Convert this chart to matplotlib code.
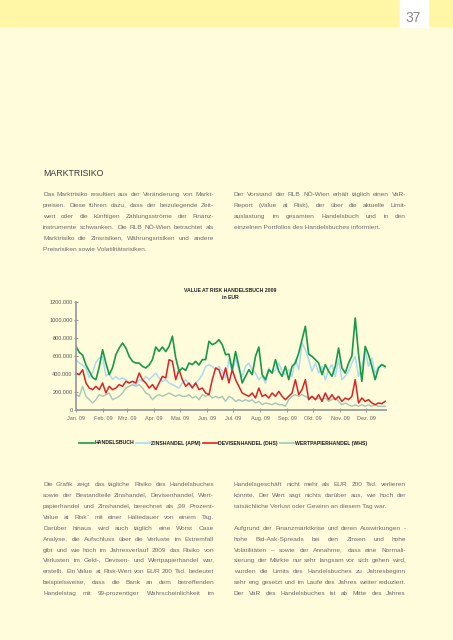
import pandas as pd
import matplotlib
matplotlib.use('Agg')
import matplotlib.pyplot as plt
from matplotlib.font_manager import FontProperties
from matplotlib.ticker import FuncFormatter

W, H = 453, 640
BG = '#fffcdc'
BAND = '#fff7a6'
TXT = '#6c6c6c'

# --- data (EUR thousands), roughly every 3-4 days over 2009 ---
dates = pd.date_range('2009-01-01', '2009-12-23', periods=94)

handelsbuch = [707, 640, 610, 500, 430, 360, 337, 480, 670, 520, 393, 470, 615, 689, 744, 689,
               596, 541, 522, 522, 485, 467, 500, 560, 700, 652, 700, 650, 707, 820, 580, 430,
               467, 440, 522, 504, 541, 500, 560, 560, 763, 726, 744, 781, 726, 615, 620, 448,
               650, 485, 300, 374, 448, 393, 596, 700, 393, 337, 448, 411, 560, 430, 374, 485,
               337, 485, 522, 633, 781, 930, 620, 596, 560, 522, 393, 504, 430, 374, 485, 689,
               467, 411, 522, 600, 1022, 620, 319, 707, 615, 485, 337, 467, 504, 485]
zinshandel = [560, 522, 500, 460, 360, 420, 530, 578, 590, 380, 400, 340, 370, 340, 356, 337,
              300, 319, 270, 337, 319, 374, 337, 374, 411, 356, 319, 337, 300, 282, 263, 244,
              300, 337, 282, 263, 300, 337, 393, 485, 504, 485, 448, 485, 430, 356, 560, 411,
              578, 448, 374, 485, 522, 448, 411, 337, 374, 300, 467, 411, 448, 522, 430, 393,
              448, 374, 560, 448, 744, 670, 560, 430, 522, 411, 485, 337, 448, 504, 374, 560,
              337, 374, 430, 522, 596, 374, 485, 670, 485, 578, 411, 478, 504, 467]
devisenhandel = [411, 393, 448, 300, 244, 226, 263, 226, 300, 189, 263, 226, 244, 282, 263, 319,
                 300, 319, 300, 411, 337, 300, 244, 282, 226, 300, 374, 356, 559, 541, 337, 448,
                 337, 263, 300, 244, 300, 226, 244, 189, 170, 337, 467, 448, 337, 467, 300, 448,
                 337, 263, 189, 170, 152, 189, 133, 244, 152, 170, 133, 189, 152, 207, 152, 115,
                 152, 189, 337, 170, 226, 337, 115, 152, 115, 170, 96, 189, 115, 170, 115, 152,
                 96, 133, 115, 152, 337, 78, 133, 96, 115, 78, 59, 78, 70, 96]
wertpapierhandel = [170, 152, 263, 152, 115, 78, 115, 170, 152, 170, 189, 115, 133, 152, 189, 244,
                    263, 282, 263, 282, 244, 189, 170, 115, 152, 170, 152, 170, 189, 170, 152, 170,
                    152, 152, 170, 133, 152, 115, 170, 152, 170, 133, 152, 133, 152, 96, 152, 133,
                    96, 115, 96, 115, 96, 115, 78, 96, 59, 78, 70, 59, 78, 59, 59, 41,
                    115, 152, 170, 152, 170, 152, 133, 152, 115, 133, 115, 133, 96, 115, 133, 96,
                    59, 78, 59, 41, 59, 41, 59, 41, 59, 41, 59, 41, 41, 41]

series_names = ['HANDELSBUCH', 'ZINSHANDEL (APM)', 'DEVISENHANDEL (DHS)', 'WERTPAPIERHANDEL (WHS)']
series_colors = ['#17994a', '#aadbf0', '#d92427', '#a3c8b8']
month_labels = ['Jan. 09', 'Feb. 09', 'Mrz. 09', 'Apr. 09', 'Mai. 09', 'Jun. 09',
                'Jul. 09', 'Aug. 09', 'Sep. 09', 'Okt. 09', 'Nov. 09', 'Dez. 09']
y_ticks = [0, 200000, 400000, 600000, 800000, 1000000, 1200000]

top_left = ["Das Marktrisiko resultiert aus der Veränderung von Markt-",
            "preisen. Diese führen dazu, dass der beizulegende Zeit-",
            "wert oder die künftigen Zahlungsströme der Finanz-",
            "instrumente schwanken. Die RLB NÖ-Wien betrachtet als",
            "Marktrisiko die Zinsrisiken, Währungsrisiken und andere",
            "Preisrisiken sowie Volatilitätsrisiken."]
top_right = ["Der Vorstand der RLB NÖ-Wien erhält täglich einen VaR-",
             "Report (Value at Risk), der über die aktuelle Limit-",
             "auslastung im gesamten Handelsbuch und in den",
             "einzelnen Portfolios des Handelsbuches informiert."]
bottom_left = ["Die Grafik zeigt das tägliche Risiko des Handelsbuches",
               "sowie der Bestandteile Zinshandel, Devisenhandel, Wert-",
               "papierhandel und Zinshandel, berechnet als „99 Prozent-",
               "Value at Risk“ mit einer Haltedauer von einem Tag.",
               "Darüber hinaus wird auch täglich eine Worst Case",
               "Analyse, die Aufschluss über die Verluste im Extremfall",
               "gibt und wie hoch im Jahresverlauf 2009 das Risiko von",
               "Verlusten im Geld-, Devisen- und Wertpapierhandel war,",
               "erstellt. Ein Value at Risk-Wert von EUR 200 Tsd. bedeutet",
               "beispielsweise, dass die Bank an dem betreffenden",
               "Handelstag mit 99-prozentiger Wahrscheinlichkeit im"]
bottom_right = ["Handelsgeschäft nicht mehr als EUR 200 Tsd. verlieren",
                "könnte. Der Wert sagt nichts darüber aus, wie hoch der",
                "tatsächliche Verlust oder Gewinn an diesem Tag war.",
                "",
                "Aufgrund der Finanzmarktkrise und deren Auswirkungen -",
                "hohe Bid-Ask-Spreads bei den Zinsen und hohe",
                "Volatilitäten – sowie der Annahme, dass eine Normali-",
                "sierung der Märkte nur sehr langsam vor sich gehen wird,",
                "wurden die Limits des Handelsbuches zu Jahresbeginn",
                "sehr eng gesetzt und im Laufe des Jahres weiter reduziert.",
                "Der VaR des Handelsbuches ist ab Mitte des Jahres"]

plt.rcParams['font.family'] = ['Liberation Sans', 'DejaVu Sans']

fig = plt.figure(figsize=(W / 100, H / 100), dpi=100, facecolor=BG)


def fx(x):
    return x / W


def fy(y):
    return 1 - y / H


# header band and page number box
fig.patches.append(plt.Rectangle((0, fy(25.7)), 1, 25.7 / H, transform=fig.transFigure,
                                 color=BAND, zorder=0))
fig.patches.append(plt.Rectangle((fx(399.5), fy(27)), 28 / W, 27 / H, transform=fig.transFigure,
                                 color='white', zorder=1))
fig.text(fx(413.5), fy(17.5), '37', ha='center', va='center', fontsize=10,
         color='#8a8a8a')

renderer = fig.canvas.get_renderer()

# fit body font so the widest line sits in a 171 px column
probe_size = 5.3
widest = 0
for line in top_left + top_right + bottom_left + bottom_right:
    t = fig.text(0, 0, line, fontsize=probe_size)
    widest = max(widest, t.get_window_extent(renderer).width)
    t.remove()
body_size = min(probe_size, probe_size * 168 / widest)
BODY = dict(fontsize=body_size, color=TXT)
body_prop = FontProperties(family=['Liberation Sans', 'DejaVu Sans'], size=body_size)


def word_y(word, base):
    # Agg places the glyph bitmap by its own box; undo that so all words share one baseline
    _, h, d = renderer.get_text_width_height_descent(word, body_prop, ismath=False)
    return fy(base + int(h) - int(h - d) - d)


def put_line(text, x0, x1, y, justify):
    if not text:
        return
    base = round(y + 2)
    if not justify:
        fig.text(fx(x0), word_y(text, base), text, ha='left', va='baseline', **BODY)
        return
    words = text.split(' ')
    objs = [fig.text(0, word_y(w, base), w, ha='left', va='baseline', **BODY) for w in words]
    widths = [o.get_window_extent(renderer).width for o in objs]
    gap = (x1 - x0 - sum(widths)) / (len(words) - 1)
    x = x0
    for o, w in zip(objs, widths):
        o.set_x(fx(x))
        x += w + gap


def put_par(lines, x0, x1, y0, step, last_justified=False):
    for i, line in enumerate(lines):
        nxt = lines[i + 1] if i + 1 < len(lines) else None
        just = (nxt is not None and nxt != '') or (nxt is None and last_justified)
        put_line(line, x0, x1, y0 + i * step, just)


fig.text(fx(43), fy(174), 'MARKTRISIKO', ha='left', va='center', fontsize=6.3,
         color='#3a3a3a')

put_par(top_left, 43, 214, 194.3, 11.0)
put_par(top_right, 234, 406, 194.3, 11.0)
put_par(bottom_left, 43, 214, 484.3, 10.88, last_justified=True)
put_par(bottom_right, 234, 406, 484.3, 10.88, last_justified=True)

# --- chart ---
ax = fig.add_axes([fx(76), fy(410), (386 - 76) / W, (410 - 302) / H])
ax.set_facecolor('none')
series = [wertpapierhandel, zinshandel, devisenhandel, handelsbuch]
cols = [series_colors[3], series_colors[1], series_colors[2], series_colors[0]]
lws = [1.0, 1.1, 1.1, 1.2]
for vals, c, lw in zip(series, cols, lws):
    ax.plot(dates, [v * 1000 for v in vals], color=c, lw=lw)

ax.set_ylim(0, 1200000)
ax.set_xlim(pd.Timestamp('2009-01-01'), pd.Timestamp('2009-12-24'))
ax.set_yticks(y_ticks)
ax.yaxis.set_major_formatter(FuncFormatter(
    lambda v, p: f'{int(v):,}'.replace(',', '.') if v < 1000000 else f'{int(v) // 1000}.000'))
month_starts = pd.date_range('2009-01-01', periods=12, freq='MS')
ax.set_xticks(month_starts)
ax.set_xticklabels(month_labels)
for s in ['top', 'right']:
    ax.spines[s].set_visible(False)
for s in ['left', 'bottom']:
    ax.spines[s].set_color('#9c9c9c')
    ax.spines[s].set_linewidth(1.3)
ax.tick_params(axis='y', length=2.5, width=0.8, color='#9c9c9c', pad=1.2,
               labelsize=4, labelcolor='#555555', direction='inout')
ax.tick_params(axis='x', length=3, width=0.8, color='#9c9c9c', pad=3,
               labelsize=4, labelcolor='#666666', direction='inout')

fig.text(fx(230), fy(291), 'VALUE AT RISK HANDELSBUCH 2009', ha='center', va='center',
         fontsize=3.7, weight='bold', color='#222222')
fig.text(fx(230), fy(297.7), 'in EUR', ha='center', va='center',
         fontsize=3.7, weight='bold', color='#222222')

handles = [plt.Line2D([], [], color=c, lw=1.2) for c in series_colors]
fig.legend(handles, series_names, loc='center', bbox_to_anchor=(fx(223), fy(443)), ncol=4,
           frameon=False, prop={'size': 3.7, 'weight': 'bold'}, handlelength=2.9,
           handletextpad=0.12, columnspacing=0.35, labelcolor='#1a1a1a')

fig.savefig('out.png', dpi=100, facecolor=BG)
